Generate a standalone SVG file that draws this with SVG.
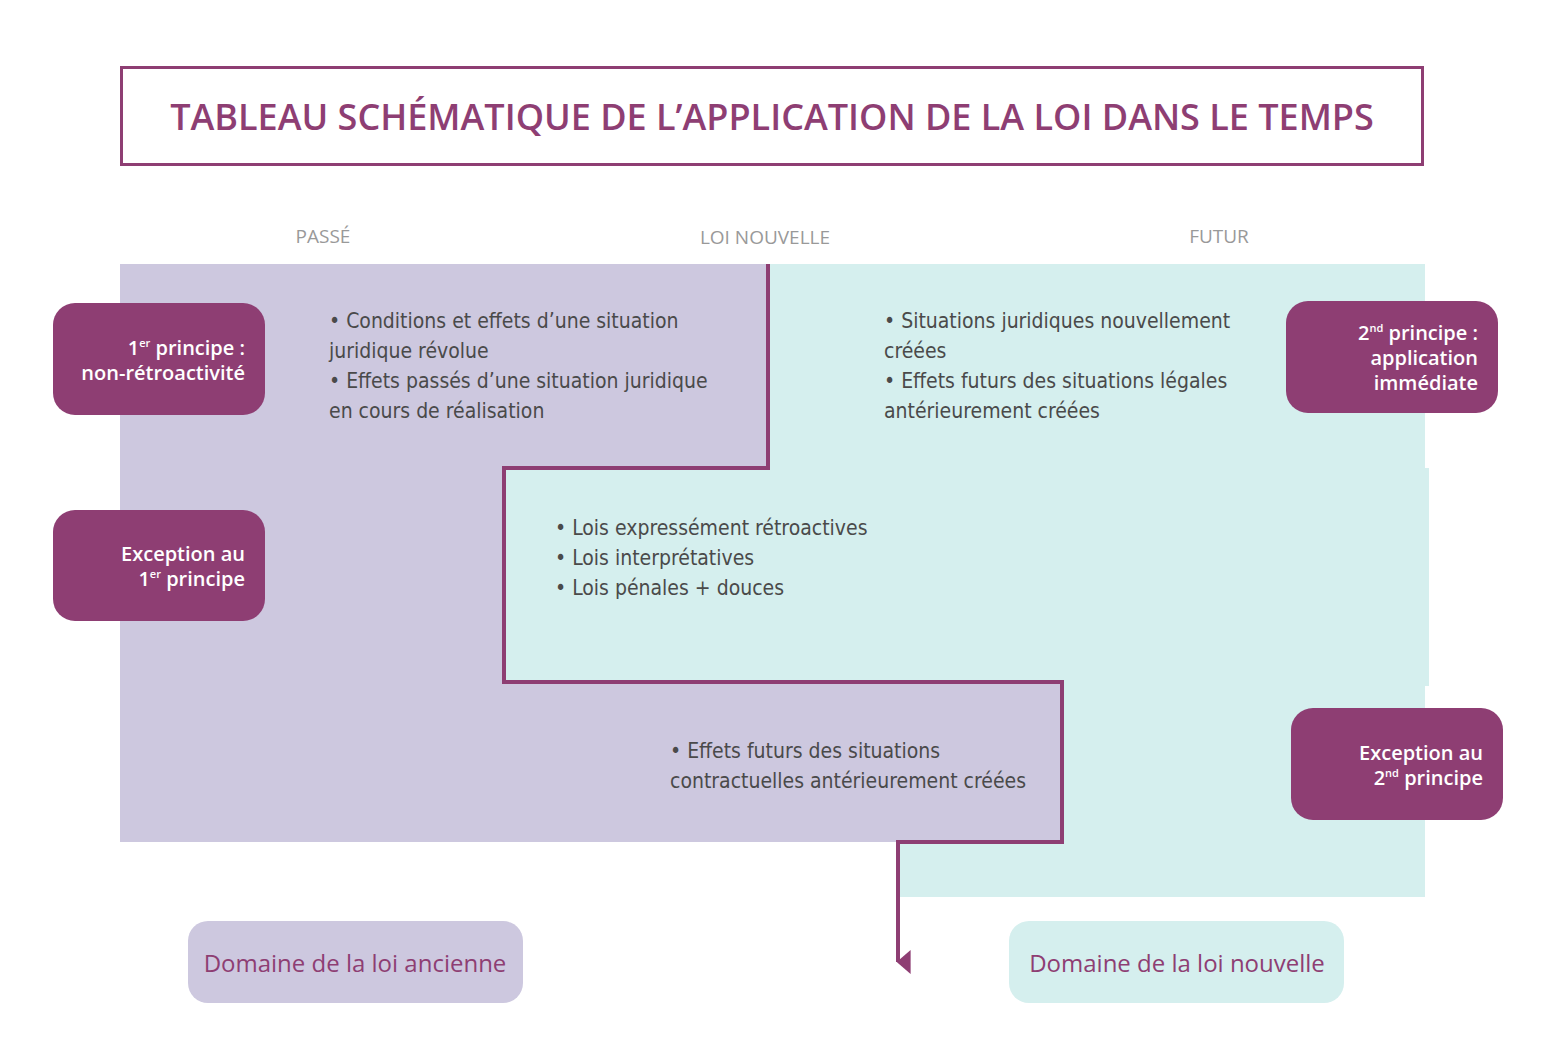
<svg xmlns="http://www.w3.org/2000/svg" width="1565" height="1063" viewBox="0 0 1565 1063">
<style>
.lav{fill:#cdc8df}.teal{fill:#d5efee}
.box{fill:#8e3e73}
.bt{font-family:"Open Sans",sans-serif;font-weight:600;font-size:20px;fill:#fff;text-anchor:end}
.sup{font-size:11px}
.body{font-family:"DejaVu Sans Condensed","DejaVu Sans",sans-serif;font-stretch:condensed;font-size:21px;fill:#4a4a4a}
.hdr{font-family:"Open Sans",sans-serif;font-size:19px;fill:#999;text-anchor:middle}
.dom{font-family:"Open Sans",sans-serif;font-size:24px;fill:#8e3e73;text-anchor:middle}
</style>
<defs><marker id="ah" viewBox="0 0 10 10" refX="5" refY="9" markerWidth="24" markerHeight="14" markerUnits="userSpaceOnUse" orient="auto" preserveAspectRatio="none"><path d="M0,0 L10,0 L5,10Z" fill="#8e3e73"/></marker></defs>
<rect width="1565" height="1063" fill="#fff"/>
<g id="title"><rect x="121.5" y="67.5" width="1301" height="97" fill="#fff" stroke="#8e3e73" stroke-width="3"/>
<text x="772" y="130" text-anchor="middle" font-family="Open Sans,sans-serif" font-weight="600" font-size="36" fill="#8e3e73">TABLEAU SCHÉMATIQUE DE L’APPLICATION DE LA LOI DANS LE TEMPS</text></g>
<g id="headers"><text class="hdr" x="323" y="243">PASSÉ</text><text class="hdr" x="765" y="244">LOI NOUVELLE</text><text class="hdr" x="1219" y="243">FUTUR</text></g>
<g id="regions">
<path class="teal" d="M768,264 H1425 V468 H1429 V686 H1425 V897 H898 V842 H1062 V682 H504 V468 H768Z"/>
<path class="lav" d="M120,264 H768 V468 H504 V682 H1062 V842 H120Z"/>
</g>
<g id="connectors"><path d="M768,264 V468 H504 V682 H1062 V842 H898 V962" fill="none" stroke="#8e3e73" stroke-width="4" marker-end="url(#ah)"/></g>
<g id="t1" class="body"><text x="329" y="328">• Conditions et effets d’une situation</text><text x="329" y="358">juridique révolue</text><text x="329" y="388">• Effets passés d’une situation juridique</text><text x="329" y="418">en cours de réalisation</text></g>
<g id="t2" class="body"><text x="884" y="328">• Situations juridiques nouvellement</text><text x="884" y="358">créées</text><text x="884" y="388">• Effets futurs des situations légales</text><text x="884" y="418">antérieurement créées</text></g>
<g id="t3" class="body"><text x="555" y="535">• Lois expressément rétroactives</text><text x="555" y="565">• Lois interprétatives</text><text x="555" y="595">• Lois pénales + douces</text></g>
<g id="t4" class="body"><text x="670" y="758">• Effets futurs des situations</text><text x="670" y="788">contractuelles antérieurement créées</text></g>
<g id="b1"><rect class="box" x="53" y="303" width="212" height="112" rx="22"/><text class="bt" x="245" y="355">1<tspan class="sup" dy="-8">er</tspan><tspan dy="8"> principe :</tspan></text><text class="bt" x="245" y="380">non-rétroactivité</text></g>
<g id="b2"><rect class="box" x="53" y="510" width="212" height="111" rx="22"/><text class="bt" x="245" y="561">Exception au</text><text class="bt" x="245" y="586">1<tspan class="sup" dy="-8">er</tspan><tspan dy="8"> principe</tspan></text></g>
<g id="b3"><rect class="box" x="1286" y="301" width="212" height="112" rx="22"/><text class="bt" x="1478" y="340">2<tspan class="sup" dy="-8">nd</tspan><tspan dy="8"> principe :</tspan></text><text class="bt" x="1478" y="365">application</text><text class="bt" x="1478" y="390">immédiate</text></g>
<g id="b4"><rect class="box" x="1291" y="708" width="212" height="112" rx="22"/><text class="bt" x="1483" y="760">Exception au</text><text class="bt" x="1483" y="785">2<tspan class="sup" dy="-8">nd</tspan><tspan dy="8"> principe</tspan></text></g>
<g id="d1"><rect class="lav" x="188" y="921" width="335" height="82" rx="20"/><text class="dom" x="355" y="972">Domaine de la loi ancienne</text></g>
<g id="d2"><rect class="teal" x="1009" y="921" width="335" height="82" rx="20"/><text class="dom" x="1177" y="972">Domaine de la loi nouvelle</text></g>
</svg>
